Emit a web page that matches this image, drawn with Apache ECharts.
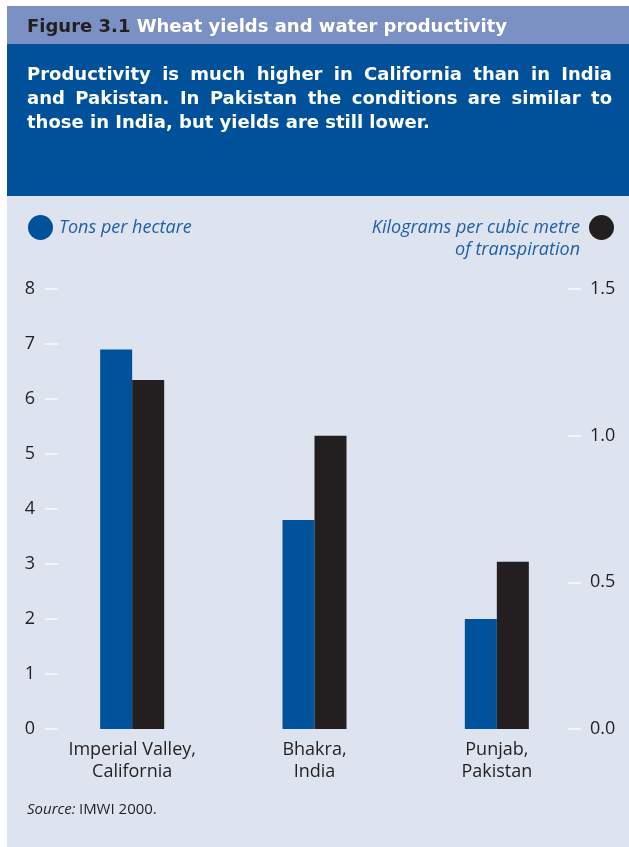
<!DOCTYPE html>
<html>
<head>
<meta charset="utf-8">
<title>Wheat yields and water productivity</title>
<script src="https://cdn.jsdelivr.net/npm/echarts@6/dist/echarts.min.js"></script>
<style>
	html, body { margin: 0; padding: 0; background: #fff; }
	#chart { width: 629px; height: 847px; }
</style>
</head>
<body>
<div id="chart"></div>
<script>
var regions = ['Imperial Valley,\nCalifornia', 'Bhakra,\nIndia', 'Punjab,\nPakistan'];
var tonsPerHectare = [6.9, 3.8, 2.0];
var kgPerCubicMetre = [1.19, 1.0, 0.57];
var leftTicks = [0, 8, 1];
var rightTicks = [0, 1.5, 0.5];

var FONT = '"Open Sans", "Noto Sans", sans-serif';
var HEAD = '"DejaVu Sans", sans-serif';
var INK = '#231f20';
var BLUE = '#00529b';
var LEGEND_BLUE = '#1f5fa8';
var PANEL = '#dde3ef';

var subtitleLines = [
	'Productivity is much higher in California than in India',
	'and Pakistan. In Pakistan the conditions are similar to',
	'those in India, but yields are still lower.'
];

var chart = {
	init: function(){
		var myChart = echarts.init(document.getElementById('chart'));
		myChart.setOption(chart.getOption());
	},
	// spread the words of a line over the width, like the printed text
	justify: function(line, y, x0, x1, last){
		var font = 'bold 18px ' + HEAD;
		var ctx = document.createElement('canvas').getContext('2d');
		ctx.font = font;
		var words = line.split(' ');
		var out = [];
		if(last){
			out.push({type: 'text', style: {x: x0, y: y, text: line, fill: '#fff', font: font, verticalAlign: 'middle'}});
			return out;
		}
		var total = 0;
		words.forEach(function(w){ total += ctx.measureText(w).width; });
		var gap = (x1 - x0 - total) / (words.length - 1);
		var x = x0;
		words.forEach(function(w){
			out.push({type: 'text', style: {x: x, y: y, text: w, fill: '#fff', font: font, verticalAlign: 'middle'}});
			x += ctx.measureText(w).width + gap;
		});
		return out;
	},
	getGraphics: function(){
		var g = [
			{type: 'rect', left: 7, top: 6, z: -10, shape: {width: 622, height: 841}, style: {fill: PANEL}},
			{type: 'rect', left: 7, top: 6, z: -9, shape: {width: 622, height: 38}, style: {fill: '#7b91c4'}},
			{type: 'rect', left: 7, top: 44, z: -9, shape: {width: 622, height: 152}, style: {fill: '#00519a'}},
			{
				type: 'text',
				style: {
					x: 27, y: 27, verticalAlign: 'middle',
					text: '{a|Figure 3.1}{b| Wheat yields and water productivity}',
					rich: {
						a: {fill: INK, font: 'bold 18px ' + HEAD},
						b: {fill: '#fff', font: 'bold 18px ' + HEAD}
					}
				}
			},
			{
				type: 'text',
				style: {
					x: 580, y: 250, align: 'right', verticalAlign: 'middle',
					text: 'of transpiration', fill: LEGEND_BLUE, font: 'italic 18px ' + FONT
				}
			},
			{
				type: 'text',
				style: {
					x: 27, y: 810, verticalAlign: 'middle',
					text: '{i|Source:} {n|IMWI 2000.}',
					rich: {
						i: {fill: INK, font: 'italic 15px ' + FONT},
						n: {fill: INK, font: '15px ' + FONT}
					}
				}
			}
		];
		subtitleLines.forEach(function(line, i){
			g = g.concat(chart.justify(line, 75 + i * 24, 27, 612, i === subtitleLines.length - 1));
		});
		return g;
	},
	getOption: function(){
		var option = {
			animation: false,
			textStyle: {fontFamily: FONT},
			graphic: chart.getGraphics(),
			legend: [
				{
					left: 28, top: 215, padding: 0,
					icon: 'circle', itemWidth: 25, itemHeight: 25, itemGap: 0,
					data: ['Tons per hectare'],
					textStyle: {color: LEGEND_BLUE, fontStyle: 'italic', fontSize: 18, padding: [0, 0, 0, 1]}
				},
				{
					right: 15, top: 215, padding: 0, align: 'right',
					icon: 'circle', itemWidth: 25, itemHeight: 25, itemGap: 0,
					data: ['Kilograms per cubic metre'],
					textStyle: {color: LEGEND_BLUE, fontStyle: 'italic', fontSize: 18, padding: [0, 4, 0, 0]}
				}
			],
			grid: {left: 41, right: 41, top: 289, bottom: 118},
			xAxis: {
				type: 'category',
				data: regions,
				axisLine: {show: false},
				axisTick: {show: false},
				axisLabel: {color: INK, fontSize: 18, lineHeight: 22, margin: 10}
			},
			yAxis: [
				{
					type: 'value',
					min: leftTicks[0], max: leftTicks[1], interval: leftTicks[2],
					offset: -4,
					splitLine: {show: false},
					axisLine: {show: false},
					axisTick: {show: true, inside: true, length: 13, lineStyle: {color: '#f3f5f9', width: 2}},
					axisLabel: {color: INK, fontSize: 18, margin: 10}
				},
				{
					type: 'value',
					min: rightTicks[0], max: rightTicks[1], interval: rightTicks[2],
					offset: -7,
					splitLine: {show: false},
					axisLine: {show: false},
					axisTick: {show: true, inside: true, length: 13, lineStyle: {color: '#f3f5f9', width: 2}},
					axisLabel: {
						color: INK, fontSize: 18, margin: 9,
						formatter: function(v){ return v.toFixed(1); }
					}
				}
			],
			series: [
				{
					name: 'Tons per hectare',
					type: 'bar',
					yAxisIndex: 0,
					barWidth: 32,
					barGap: '0%',
					itemStyle: {color: BLUE},
					data: tonsPerHectare
				},
				{
					name: 'Kilograms per cubic metre',
					type: 'bar',
					yAxisIndex: 1,
					barWidth: 32,
					barGap: '0%',
					itemStyle: {color: INK},
					data: kgPerCubicMetre
				}
			]
		};
		return option;
	}
};

chart.init();
</script>
</body>
</html>
